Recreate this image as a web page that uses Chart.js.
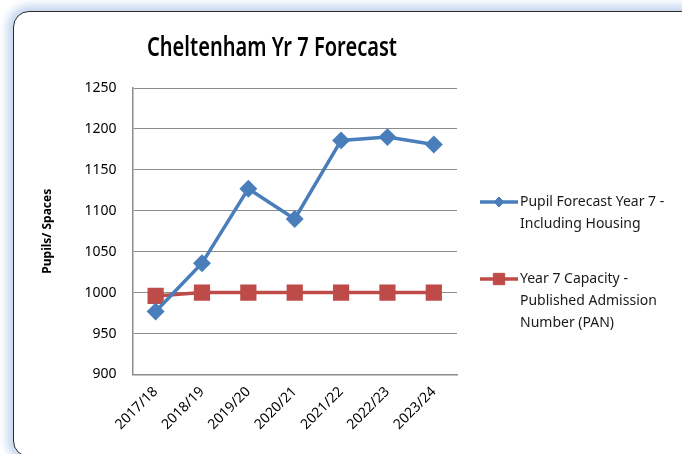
<!DOCTYPE html>
<html>
<head>
<meta charset="utf-8">
<script src="https://cdn.jsdelivr.net/npm/chart.js@4"></script>
<style>
  html, body { margin: 0; padding: 0; width: 682px; height: 454px; overflow: hidden; background: #fff; }
  .panel {
    position: absolute; left: 13px; top: 11px; width: 720px; height: 444px;
    border: 1.5px solid #2a2a2a; border-radius: 16px; background: #fff;
    box-shadow: 0 0 9px 6px #c6d8f0;
  }
  canvas { position: absolute; left: 0; top: 0; }
</style>
</head>
<body>
<div class="panel"></div>
<canvas id="chart" width="682" height="454"></canvas>
<script>
const years = ['2017/18', '2018/19', '2019/20', '2020/21', '2021/22', '2022/23', '2023/24'];
const pupilForecast = [977, 1036, 1127, 1090, 1186, 1190, 1181];
const capacityPAN = [996, 1000, 1000, 1000, 1000, 1000, 1000];
const seriesNames = [
  ['Pupil Forecast Year 7 -', 'Including Housing'],
  ['Year 7 Capacity -', 'Published Admission', 'Number (PAN)']
];
const titleText = 'Cheltenham Yr 7 Forecast';

const font = '"Noto Sans", "Open Sans", sans-serif';

// title + legend drawn by hand so they sit where the original has them
const extras = {
  id: 'extras',
  afterDraw(chart) {
    const ctx = chart.ctx;
    ctx.save();
    ctx.font = '600 27px ' + font;
    ctx.fillStyle = '#000';
    ctx.textBaseline = 'alphabetic';
    const w = ctx.measureText(titleText).width;
    const sx = 250 / w;
    ctx.translate(272, 56);
    ctx.scale(sx, 1);
    ctx.textAlign = 'center';
    ctx.fillText(titleText, 0, 0);
    ctx.restore();

    const rows = [202, 279];
    chart.data.datasets.forEach((ds, i) => {
      const y = rows[i];
      ctx.save();
      ctx.strokeStyle = ds.borderColor;
      ctx.lineWidth = ds.borderWidth;
      ctx.beginPath();
      ctx.moveTo(480, y);
      ctx.lineTo(518, y);
      ctx.stroke();
      ctx.fillStyle = ds.pointBackgroundColor;
      ctx.strokeStyle = ds.pointBorderColor;
      ctx.lineWidth = 1;
      Chart.helpers.drawPoint(ctx, {pointStyle: ds.pointStyle, radius: ds.legendRadius, borderWidth: 1}, 499, y);
      ctx.font = '14px ' + font;
      ctx.fillStyle = '#1a1a1a';
      ctx.textBaseline = 'middle';
      ctx.textAlign = 'left';
      seriesNames[i].forEach((line, j) => ctx.fillText(line, 520, y + j * 22));
      ctx.restore();
    });
  }
};

new Chart(document.getElementById('chart'), {
  type: 'line',
  data: {
    labels: years,
    datasets: [
      {
        label: seriesNames[0].join(' '),
        data: pupilForecast,
        borderColor: '#4a7ebb',
        backgroundColor: '#4a7ebb',
        pointBackgroundColor: '#4a7ebb',
        pointBorderColor: '#4a7ebb',
        borderWidth: 3.5,
        pointStyle: 'rectRot',
        pointRadius: 6.5,
        legendRadius: 5,
        tension: 0
      },
      {
        label: seriesNames[1].join(' '),
        data: capacityPAN,
        borderColor: '#be4b48',
        backgroundColor: '#be4b48',
        pointBackgroundColor: '#be4b48',
        pointBorderColor: '#be4b48',
        borderWidth: 3.5,
        pointStyle: 'rect',
        pointRadius: 9,
        legendRadius: 8,
        tension: 0
      }
    ]
  },
  options: {
    responsive: false,
    animation: false,
    devicePixelRatio: 1,
    layout: { padding: { left: 30, right: 225, top: 88, bottom: 12 } },
    plugins: {
      legend: { display: false },
      title: { display: false },
      tooltip: { enabled: false }
    },
    scales: {
      x: {
        offset: true,
        grid: { display: false, drawTicks: false },
        border: { color: '#8c8c8c', width: 1.5 },
        ticks: {
          minRotation: 45, maxRotation: 45, padding: 9,
          color: '#000', font: { family: font, size: 14 }
        }
      },
      y: {
        min: 900, max: 1250,
        grid: { color: '#8c8c8c', lineWidth: 1, drawTicks: false },
        border: { color: '#8c8c8c', width: 1.5 },
        ticks: {
          stepSize: 50, padding: 16,
          color: '#000', font: { family: font, size: 14 },
          callback: (v) => String(v)
        },
        title: {
          display: true, text: 'Pupils/ Spaces', color: '#000',
          font: { family: font, size: 12, weight: 'bold' },
          padding: { top: 10, bottom: 14 }
        }
      }
    }
  },
  plugins: [extras]
});
</script>
</body>
</html>
